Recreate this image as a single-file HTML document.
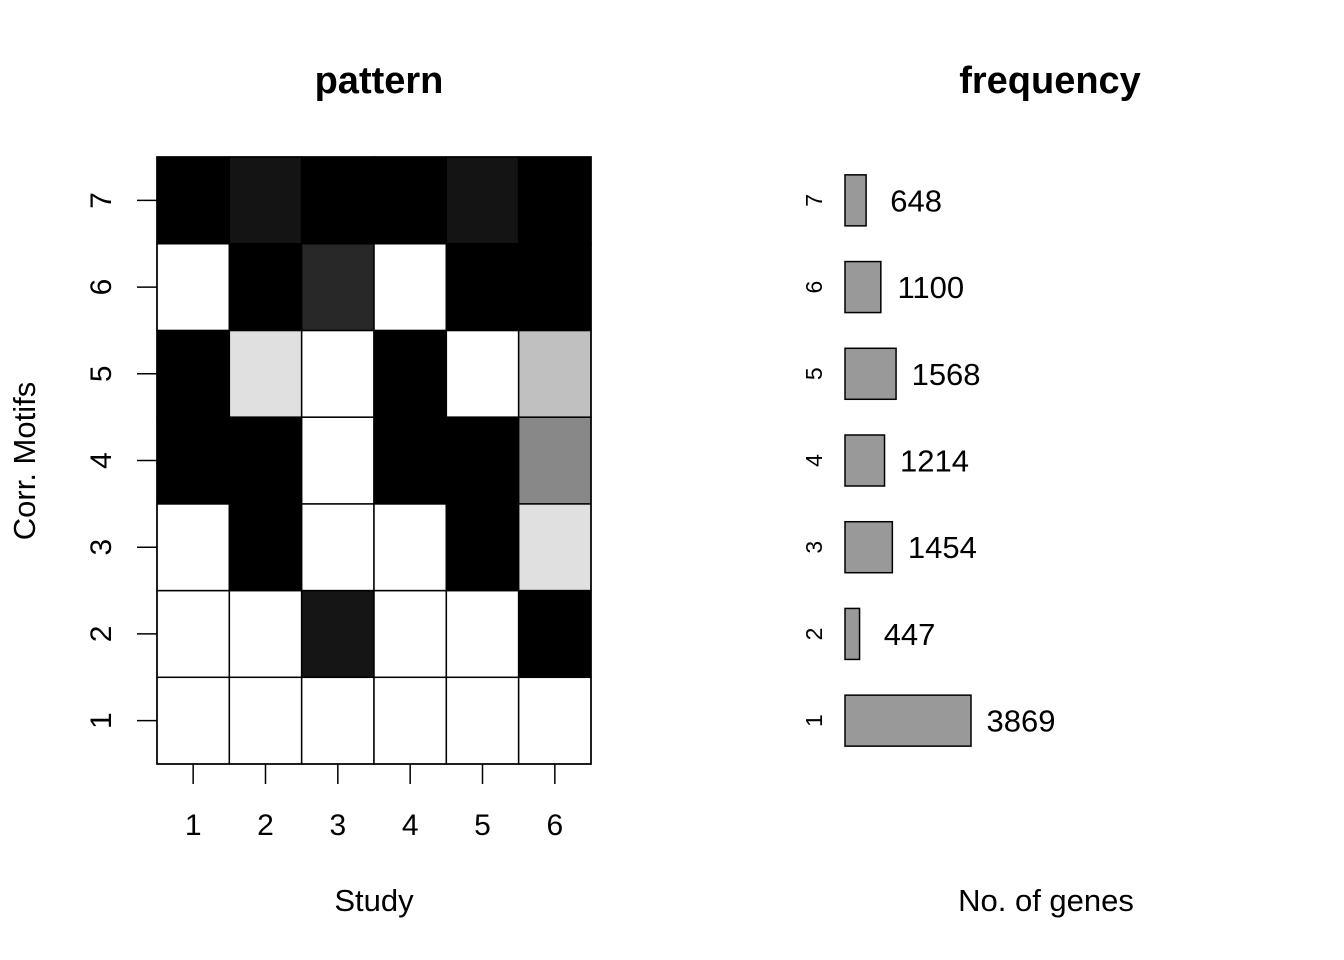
<!DOCTYPE html>
<html><head><meta charset="utf-8"><style>body{margin:0;background:#fff}svg{display:block;font-family:"Liberation Sans",Arial,sans-serif}</style></head>
<body>
<svg id="chart" width="1344" height="960">
<text x="379" y="93" font-size="38" font-weight="bold" text-anchor="middle">pattern</text>
<text x="1050" y="93" font-size="38" font-weight="bold" text-anchor="middle">frequency</text>
<text x="374" y="911" font-size="31" text-anchor="middle">Study</text>
<text x="1046" y="911" font-size="31" text-anchor="middle">No. of genes</text>
<text transform="translate(35,461) rotate(-90)" font-size="31" text-anchor="middle">Corr. Motifs</text>
<g id="heat"></g><g id="freq"></g>
</svg>
<script>
const studies=[1,2,3,4,5,6];
const motifs=[1,2,3,4,5,6,7];
// grey values (0=black,255=white), rows are motifs 1..7
const cellGrey=[
[255,255,255,255,255,255],
[255,255,21,255,255,0],
[255,0,255,255,0,224],
[0,0,255,0,0,136],
[0,224,255,0,255,192],
[255,0,40,255,0,0],
[0,20,0,0,20,0]];
const geneCounts=[3869,447,1454,1214,1568,1100,648];
const NS='http://www.w3.org/2000/svg';
function mk(p,t,a){const e=document.createElementNS(NS,t);for(const k in a)e.setAttribute(k,a[k]);p.appendChild(e);return e;}
const L=157,R=591,T=157,B=764;
const cw=(R-L)/studies.length, rh=(B-T)/motifs.length;
const xS=i=>L+cw*i, yS=j=>B-rh*(j+1);
const heat=document.getElementById('heat');
motifs.forEach((m,j)=>{studies.forEach((s,i)=>{const g=cellGrey[j][i];
const r=mk(heat,'rect',{x:xS(i),y:yS(j),width:cw,height:rh,fill:`rgb(${g},${g},${g})`,stroke:'#000','stroke-width':1.5});

});});
const fr=mk(heat,'rect',{x:L,y:T,width:R-L,height:B-T,fill:'none',stroke:'#000','stroke-width':1.5});


studies.forEach((s,i)=>{const cx=xS(i)+cw/2;
const t=mk(heat,'line',{x1:cx,x2:cx,y1:B,y2:B+20,stroke:'#000','stroke-width':1.5});


const l=mk(heat,'text',{x:cx,y:835,'font-size':30,'text-anchor':'middle'});l.textContent=s;

});
motifs.forEach((m,j)=>{const cy=yS(j)+rh/2;
const t=mk(heat,'line',{x1:L-20,x2:L,y1:cy,y2:cy,stroke:'#000','stroke-width':1.5});


const l=mk(heat,'text',{transform:`translate(111,${cy}) rotate(-90)`,'font-size':30,'text-anchor':'middle'});l.textContent=m;

});
const freq=document.getElementById('freq');
const FL=845, maxV=Math.max(...geneCounts), FW=126, bh=51;
const wS=v=>v/maxV*FW;
geneCounts.forEach((v,j)=>{const cy=yS(j)+rh/2;
const b=mk(freq,'rect',{x:FL,y:cy-bh/2,width:wS(v),height:bh,fill:'#999',stroke:'#000','stroke-width':1.5});


const t=mk(freq,'text',{x:FL+wS(v)+50,y:cy+11,'font-size':31,'text-anchor':'middle'});t.textContent=v;


const l=mk(freq,'text',{transform:`translate(822,${cy}) rotate(-90)`,'font-size':23,'text-anchor':'middle'});l.textContent=motifs[j];

});
</script>
</body></html>
